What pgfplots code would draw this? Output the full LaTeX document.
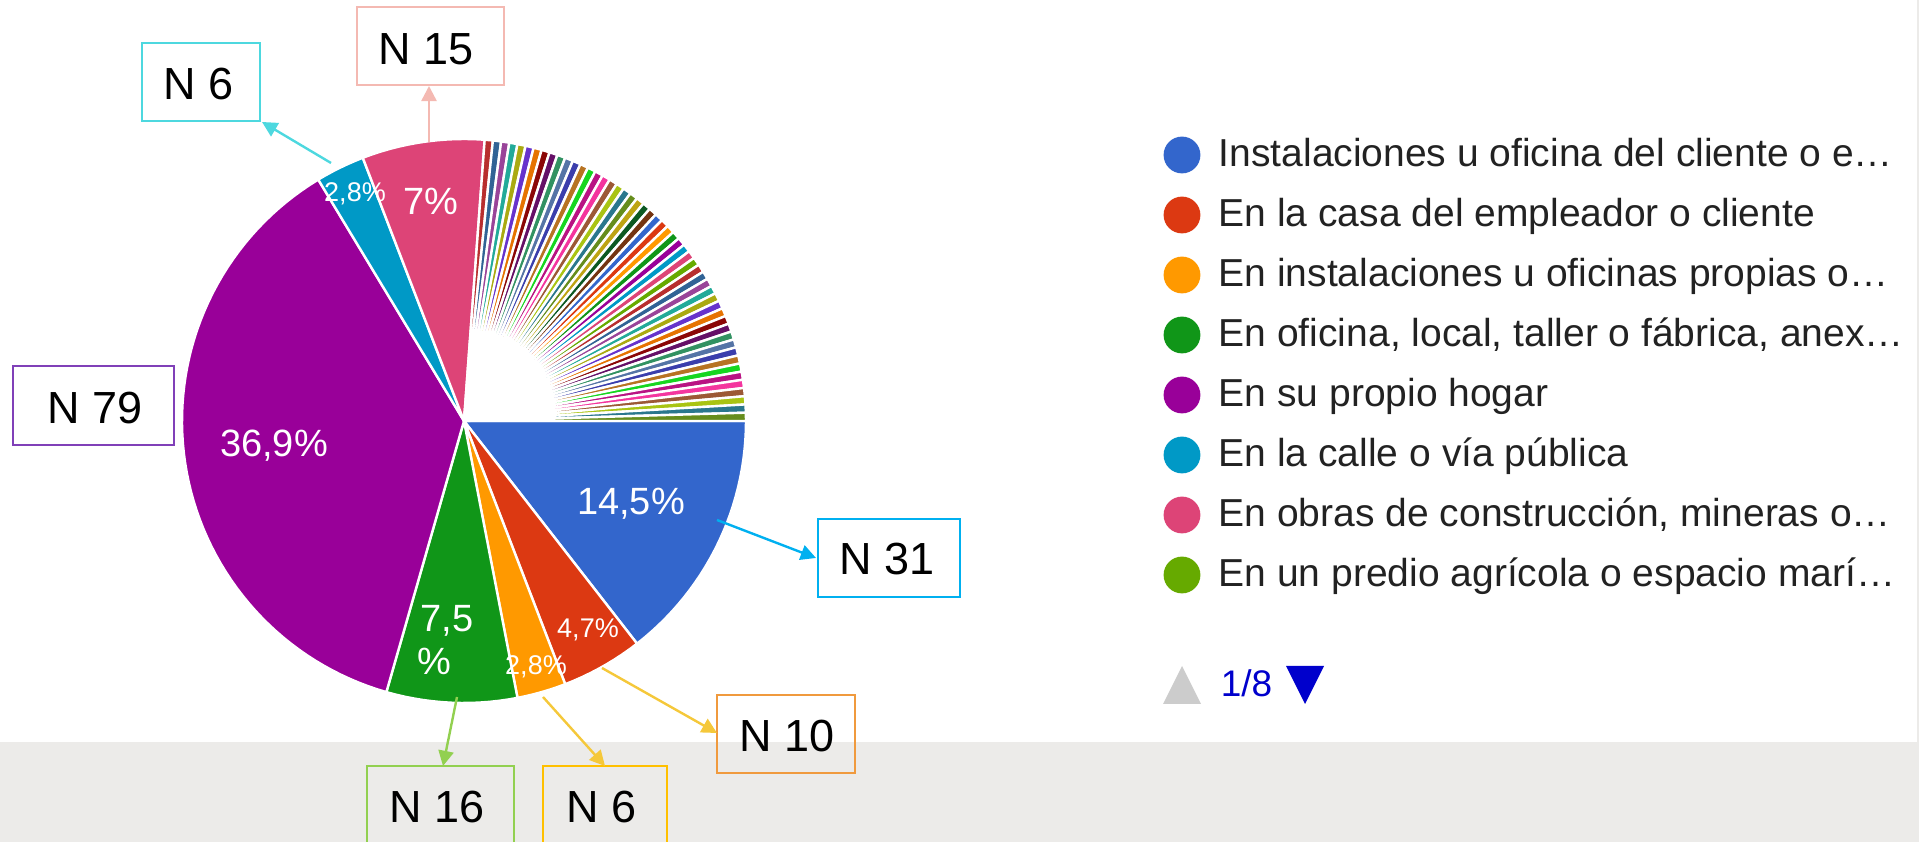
\documentclass[border=0pt]{standalone}
\usepackage{pgfplots}
\pgfplotsset{compat=1.18}
\usepackage{pgfplotstable}
\usepackage{fontspec}
\setmainfont{Liberation Sans}
\usetikzlibrary{arrows.meta}

% Google chart palette
\definecolor{g0}{HTML}{3366CC}\definecolor{g1}{HTML}{DC3912}\definecolor{g2}{HTML}{FF9900}
\definecolor{g3}{HTML}{109618}\definecolor{g4}{HTML}{990099}\definecolor{g5}{HTML}{0099C6}
\definecolor{g6}{HTML}{DD4477}\definecolor{g7}{HTML}{66AA00}\definecolor{g8}{HTML}{B82E2E}
\definecolor{g9}{HTML}{316395}\definecolor{g10}{HTML}{994499}\definecolor{g11}{HTML}{22AA99}
\definecolor{g12}{HTML}{AAAA11}\definecolor{g13}{HTML}{6633CC}\definecolor{g14}{HTML}{E67300}
\definecolor{g15}{HTML}{8B0707}\definecolor{g16}{HTML}{651067}\definecolor{g17}{HTML}{329262}
\definecolor{g18}{HTML}{5574A6}\definecolor{g19}{HTML}{3B3EAC}\definecolor{g20}{HTML}{B77322}
\definecolor{g21}{HTML}{16D620}\definecolor{g22}{HTML}{B91383}\definecolor{g23}{HTML}{F4359E}
\definecolor{g24}{HTML}{9C5935}\definecolor{g25}{HTML}{A9C413}\definecolor{g26}{HTML}{2A778D}
\definecolor{g27}{HTML}{668D1C}\definecolor{g28}{HTML}{BEA413}\definecolor{g29}{HTML}{0C5922}
\definecolor{g30}{HTML}{743411}
\definecolor{band}{HTML}{ECEBE9}
\definecolor{legtext}{HTML}{222222}
\definecolor{cpink}{HTML}{F4B9B2}
\definecolor{cteal}{HTML}{4DD8DF}
\definecolor{cpurp}{HTML}{8040B8}
\definecolor{cblue}{HTML}{00B0F0}
\definecolor{corange}{HTML}{F09A3E}
\definecolor{cgoldar}{HTML}{F5C83A}
\definecolor{cgold}{HTML}{FFC000}
\definecolor{cgreen}{HTML}{92D050}
\definecolor{pager}{HTML}{0000CC}

\newcommand\leg{\fontsize{9.75pt}{11pt}\selectfont}
\newcommand\pctL{\fontsize{9.5pt}{11pt}\selectfont}
\newcommand\pctS{\fontsize{6.75pt}{8pt}\selectfont}
\newcommand\ann{\fontsize{11.25pt}{13pt}\selectfont}

% responses per category (59 categories, total 214)
\pgfplotstableread{
n
31
10
6
16
79
6
15
0
1
1
1
1
1
1
1
1
1
1
1
1
1
1
1
1
1
1
1
1
1
1
1
1
1
1
1
1
1
1
1
1
1
1
1
1
1
1
1
1
1
1
1
1
1
1
1
1
1
1
1
}\piedata

\begin{document}
\begin{tikzpicture}
\useasboundingbox (0,0) rectangle (479.75pt,210.5pt);
\begin{axis}[at={(0,0)}, anchor=south west, scale only axis,
  width=479.75pt, height=210.5pt,
  xmin=0, xmax=1919, ymin=0, ymax=842, y dir=reverse,
  hide axis, clip=false]
% background band
\fill[band] (axis cs:0,742) rectangle (axis cs:1919,842);
\fill[band] (axis cs:1917,0) rectangle (axis cs:1919,742);

% pie slices (clockwise from 3 o'clock)
\pgfplotstablegetrowsof{\piedata}
\pgfmathtruncatemacro\lastrow{\pgfplotsretval-1}
\gdef\cum{0}
\pgfplotsforeachungrouped \i in {0,...,\lastrow}{%
  \pgfplotstablegetelem{\i}{n}\of\piedata
  \let\nval\pgfplotsretval
  \ifnum\nval>0
    \pgfmathsetmacro\a{\cum/214*360}%
    \pgfmathsetmacro\cumnew{\cum+\nval}%
    \pgfmathsetmacro\b{\cumnew/214*360}%
    \pgfmathtruncatemacro\ns{max(2,(\b-\a)/2+2)}%
    \pgfmathtruncatemacro\ci{mod(\i,31)}%
    \edef\temp{\noexpand\addplot[fill=g\ci, draw=white, line width=0.6pt, line join=round, domain=\a:\b, samples=\ns] ({464+282*cos(x)},{421+282*sin(x)}) -- (axis cs:464,421) -- cycle;}%
    \temp
    \global\let\cum\cumnew
  \fi
}

% slice labels
\node[text=white, anchor=base, inner sep=0] at (axis cs:631,515) {\pctL 14,5\%};
\node[text=white, anchor=base, inner sep=0] at (axis cs:274,457) {\pctL 36,9\%};
\node[text=white, anchor=base, inner sep=0] at (axis cs:431,215) {\pctL 7\%};
\node[text=white, anchor=base, inner sep=0] at (axis cs:447,632) {\pctL 7,5};
\node[text=white, anchor=base, inner sep=0] at (axis cs:434,675) {\pctL \%};
\node[text=white, anchor=base, inner sep=0] at (axis cs:355,202) {\pctS 2,8\%};
\node[text=white, anchor=base, inner sep=0] at (axis cs:588,638) {\pctS 4,7\%};
\node[text=white, anchor=base, inner sep=0] at (axis cs:536,675) {\pctS 2,8\%};

% annotation boxes
\draw[cpink, line width=0.5pt] (axis cs:357,7) rectangle (axis cs:504,85);
\draw[cteal, line width=0.5pt] (axis cs:142,43) rectangle (axis cs:260,121);
\draw[cpurp, line width=0.5pt] (axis cs:13,366) rectangle (axis cs:174,445);
\draw[cblue, line width=0.5pt] (axis cs:818,519) rectangle (axis cs:960,597);
\draw[corange, line width=0.5pt] (axis cs:717,695) rectangle (axis cs:855,773);
\draw[cgreen, line width=0.5pt] (axis cs:367,766) rectangle (axis cs:514,870);
\draw[cgold, line width=0.5pt] (axis cs:543,766) rectangle (axis cs:667,870);

\node[anchor=base west, inner sep=0] at (axis cs:378,65) {\ann N 15};
\node[anchor=base west, inner sep=0] at (axis cs:163,100) {\ann N 6};
\node[anchor=base west, inner sep=0] at (axis cs:47,424) {\ann N 79};
\node[anchor=base west, inner sep=0] at (axis cs:839,575) {\ann N 31};
\node[anchor=base west, inner sep=0] at (axis cs:739,752) {\ann N 10};
\node[anchor=base west, inner sep=0] at (axis cs:389,823) {\ann N 16};
\node[anchor=base west, inner sep=0] at (axis cs:566,823) {\ann N 6};

% arrows
\draw[line width=0.6pt, -{Triangle[length=3.8pt, width=3.8pt]}, cpink] (axis cs:429,142) -- (axis cs:429,86);
\draw[line width=0.6pt, -{Triangle[length=3.8pt, width=3.8pt]}, cteal] (axis cs:331,163) -- (axis cs:262,122);
\draw[line width=0.6pt, -{Triangle[length=3.8pt, width=3.8pt]}, cblue] (axis cs:717,520) -- (axis cs:816,558);
\draw[line width=0.6pt, -{Triangle[length=3.8pt, width=3.8pt]}, cgoldar] (axis cs:602,668) -- (axis cs:717,733);
\draw[line width=0.6pt, -{Triangle[length=3.8pt, width=3.8pt]}, cgoldar] (axis cs:543,697) -- (axis cs:605,766);
\draw[line width=0.6pt, -{Triangle[length=3.8pt, width=3.8pt]}, cgreen] (axis cs:457,697) -- (axis cs:443,766);

% legend
\fill[g0] (axis cs:1182,155) circle[radius=4.6pt];
\fill[g1] (axis cs:1182,215) circle[radius=4.6pt];
\fill[g2] (axis cs:1182,275) circle[radius=4.6pt];
\fill[g3] (axis cs:1182,335) circle[radius=4.6pt];
\fill[g4] (axis cs:1182,395) circle[radius=4.6pt];
\fill[g5] (axis cs:1182,455) circle[radius=4.6pt];
\fill[g6] (axis cs:1182,515) circle[radius=4.6pt];
\fill[g7] (axis cs:1182,575) circle[radius=4.6pt];
\node[anchor=base west, inner sep=0, text=legtext] at (axis cs:1218,167) {\leg Instalaciones u oficina del cliente o e…};
\node[anchor=base west, inner sep=0, text=legtext] at (axis cs:1218,227) {\leg En la casa del empleador o cliente};
\node[anchor=base west, inner sep=0, text=legtext] at (axis cs:1218,287) {\leg En instalaciones u oficinas propias o…};
\node[anchor=base west, inner sep=0, text=legtext] at (axis cs:1218,347) {\leg En oficina, local, taller o fábrica, anex…};
\node[anchor=base west, inner sep=0, text=legtext] at (axis cs:1218,407) {\leg En su propio hogar};
\node[anchor=base west, inner sep=0, text=legtext] at (axis cs:1218,467) {\leg En la calle o vía pública};
\node[anchor=base west, inner sep=0, text=legtext] at (axis cs:1218,527) {\leg En obras de construcción, mineras o…};
\node[anchor=base west, inner sep=0, text=legtext] at (axis cs:1218,587) {\leg En un predio agrícola o espacio marí…};

% pager
\fill[black!20] (axis cs:1163,704) -- (axis cs:1201,704) -- (axis cs:1182,666) -- cycle;
\node[anchor=base west, inner sep=0, text=pager] at (axis cs:1220,697) {\fontsize{9.25pt}{11pt}\selectfont 1/8};
\fill[pager] (axis cs:1286,666) -- (axis cs:1324,666) -- (axis cs:1305,704) -- cycle;
\end{axis}
\end{tikzpicture}
\end{document}
